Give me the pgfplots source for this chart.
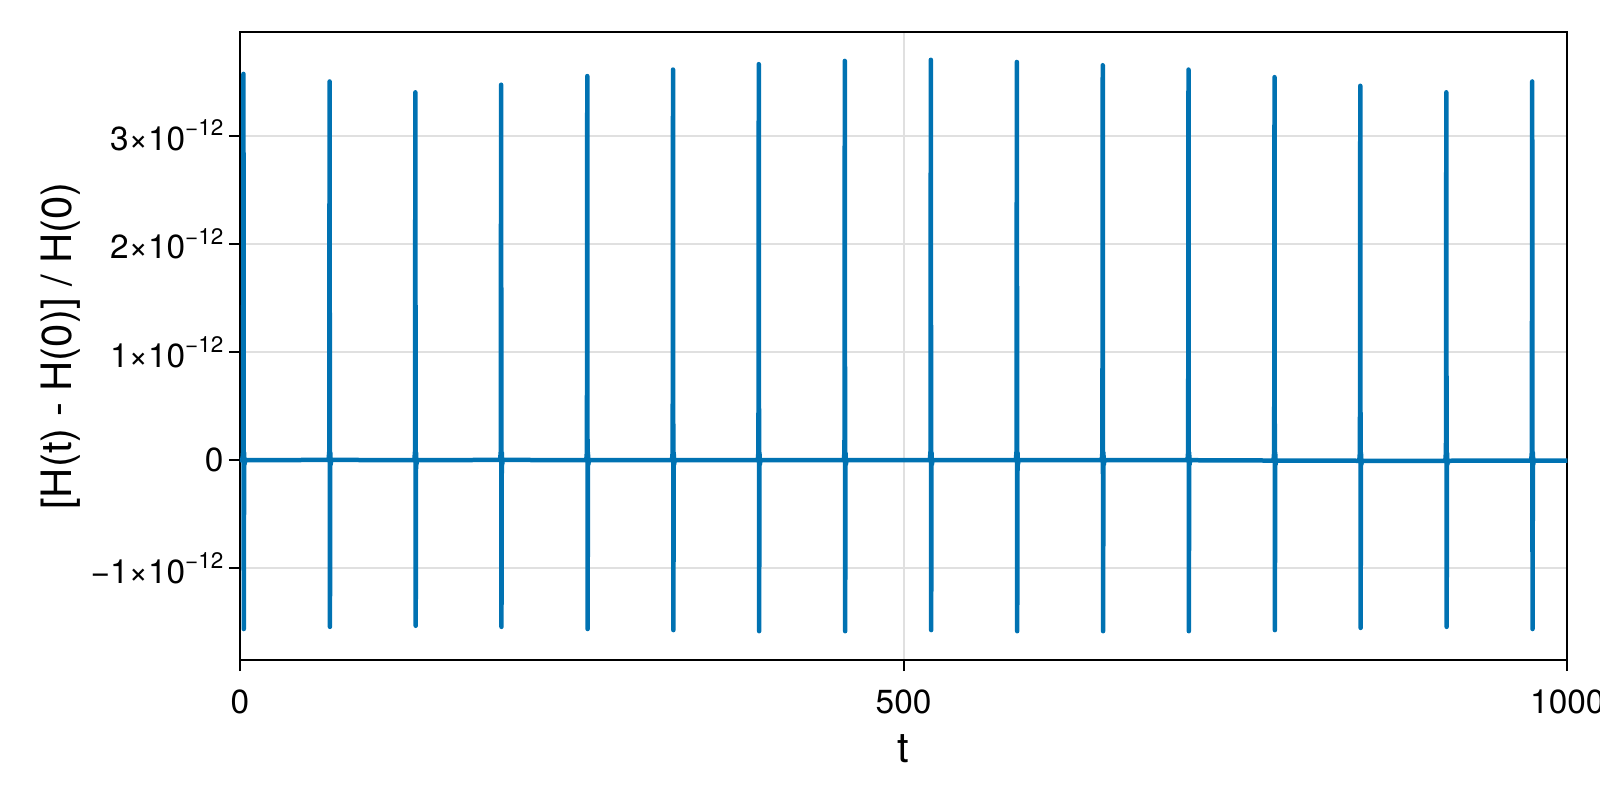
\documentclass[border=0pt]{standalone}
\usepackage{fontspec}
\setmainfont{TeX Gyre Heros}
\usepackage{pgfplots}
\pgfplotsset{compat=1.18}
\definecolor{mblue}{RGB}{0,114,178}
\newcommand{\sci}[1]{#1×10\raisebox{0.85ex}{\fontsize{6.4}{7}\selectfont −12}}

\pgfplotstableread{
t y
0 0
2.0 0
2.5 0.08
2.75 3.57
3.0 -1.56
3.25 0.07
3.5 -0.04
4.0 0
66.9 0.003
67.4 0.08
67.65 3.50
67.9 -1.54
68.15 0.07
68.4 -0.04
68.9 0.003
131.5 0
132.0 0.08
132.25 3.40
132.5 -1.53
132.75 0.07
133.0 -0.04
133.5 0
196.1 0.003
196.6 0.08
196.85 3.47
197.1 -1.54
197.35 0.07
197.6 -0.04
198.1 0.003
261.0 0
261.5 0.08
261.75 3.55
262.0 -1.56
262.25 0.07
262.5 -0.04
263.0 0
325.6 0
326.1 0.08
326.35 3.61
326.6 -1.57
326.85 0.07
327.1 -0.04
327.6 0
390.2 0
390.7 0.08
390.95 3.66
391.2 -1.58
391.45 0.07
391.7 -0.04
392.2 0
455.0 0
455.5 0.08
455.75 3.69
456.0 -1.58
456.25 0.07
456.5 -0.04
457.0 0
519.8 0
520.3 0.08
520.55 3.70
520.8 -1.57
521.05 0.07
521.3 -0.04
521.8 0
584.6 0
585.1 0.08
585.35 3.68
585.6 -1.58
585.85 0.07
586.1 -0.04
586.6 0
649.3 0
649.8 0.08
650.05 3.65
650.3 -1.58
650.55 0.07
650.8 -0.04
651.3 0
713.9 0
714.4 0.08
714.65 3.61
714.9 -1.58
715.15 0.07
715.4 -0.04
715.9 0
778.7 -0.003
779.2 0.08
779.45 3.54
779.7 -1.57
779.95 0.07
780.2 -0.04
780.7 -0.003
843.3 -0.005
843.8 0.08
844.05 3.46
844.3 -1.55
844.55 0.07
844.8 -0.04
845.3 -0.005
908.1 -0.005
908.6 0.08
908.85 3.40
909.1 -1.54
909.35 0.07
909.6 -0.04
910.1 -0.005
972.8 -0.003
973.3 0.08
973.55 3.50
973.8 -1.56
974.05 0.07
974.3 -0.04
974.8 -0.003
1000 -0.003
}\energy

\begin{document}
\begin{tikzpicture}
\useasboundingbox (0,0) rectangle (16,8);
\begin{axis}[
  at={(2.398cm,1.398cm)}, anchor=south west,
  scale only axis, width=13.275cm, height=6.286cm,
  xmin=0, xmax=1000, ymin=-1.848, ymax=3.961,
  xtick={0,500,1000}, xticklabels={0,500,1000},
  ytick={-1,0,1,2,3},
  yticklabels={\sci{−1}, 0, \sci{1}, \sci{2}, \sci{3}},
  xtick pos=left, ytick pos=left,
  grid=major, major grid style={line width=0.02cm, color=black!12},
  tick align=outside, major tick length=0.11cm,
  axis line style={line width=0.02cm},
  every tick/.style={black, line width=0.02cm},
  tick label style={font=\fontsize{9.5}{11}\selectfont},
  yticklabel style={anchor=east, xshift=0.07cm},
  xticklabel style={anchor=north, yshift=-0.06cm},
  xlabel={t}, ylabel={[H(t) - H(0)] / H(0)},
  label style={font=\fontsize{11.9}{14}\selectfont},
  xlabel style={at={(axis description cs:0.5,-0.140)}, anchor=center},
  ylabel style={at={(axis description cs:-0.1347,0.5)}, anchor=center},
]
\addplot[mblue, line width=0.045cm, line join=round] table[x=t, y=y] {\energy};
\end{axis}
\end{tikzpicture}
\end{document}
